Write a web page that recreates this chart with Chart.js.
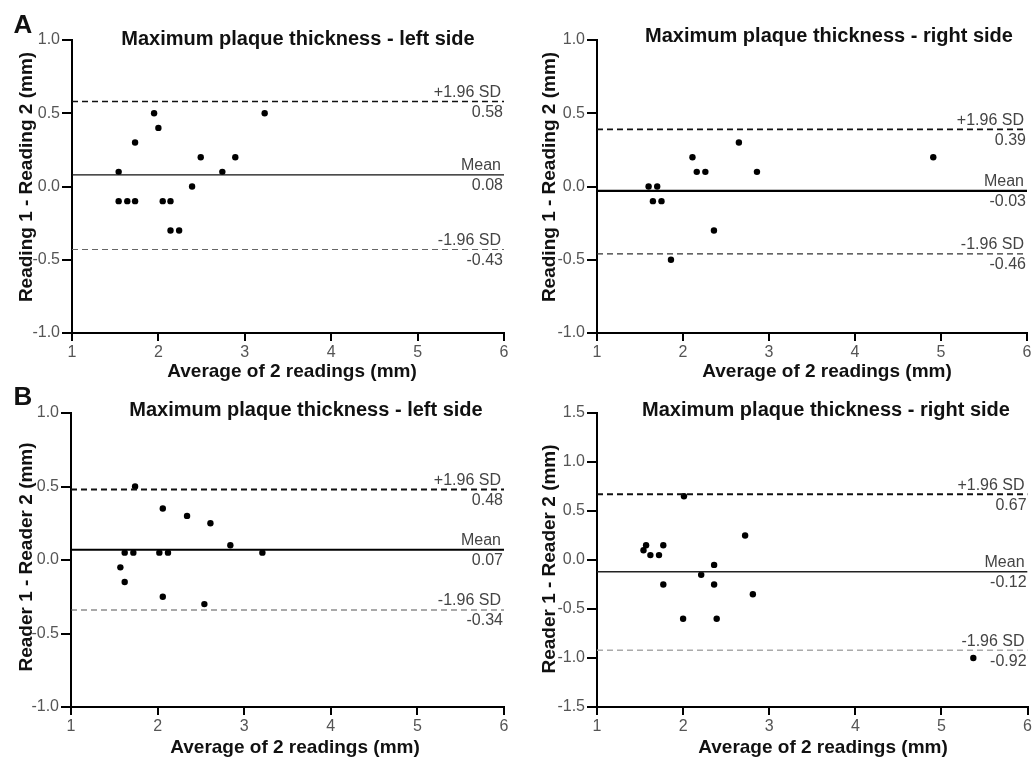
<!DOCTYPE html>
<html><head><meta charset="utf-8">
<script src="https://cdn.jsdelivr.net/npm/chart.js@4.4.1/dist/chart.umd.min.js"></script>
<style>
html,body{margin:0;padding:0;background:#fff;}
#wrap{position:relative;width:1034px;height:757px;overflow:hidden;background:#fff;}
canvas{position:absolute;left:0;top:0;width:1034px;height:757px;}
</style></head><body><div id="wrap">
<canvas id="c0" width="1034" height="757"></canvas>
<canvas id="c1" width="1034" height="757"></canvas>
<canvas id="c2" width="1034" height="757"></canvas>
<canvas id="c3" width="1034" height="757"></canvas>
</div>
<script>
// ---------- DATA ----------
const statNames = ['+1.96 SD', 'Mean', '-1.96 SD'];
const xTicks = [1, 2, 3, 4, 5, 6];

// Panel A, left side (Reading 1 - Reading 2)
const aLeftX = [1.54, 1.54, 1.64, 1.73, 1.73, 1.95, 2.00, 2.05, 2.14, 2.14, 2.24, 2.39, 2.49, 2.74, 2.89, 3.23];
const aLeftY = [0.10, -0.10, -0.10, -0.10, 0.30, 0.50, 0.40, -0.10, -0.10, -0.30, -0.30, 0.00, 0.20, 0.10, 0.20, 0.50];
const aLeftStats = [0.58, 0.08, -0.43];

// Panel A, right side
const aRightX = [1.60, 1.70, 1.65, 1.75, 1.86, 2.11, 2.16, 2.26, 2.36, 2.65, 2.86, 4.91];
const aRightY = [0.00, 0.00, -0.10, -0.10, -0.50, 0.20, 0.10, 0.10, -0.30, 0.30, 0.10, 0.20];
const aRightStats = [0.39, -0.03, -0.46];

// Panel B, left side (Reader 1 - Reader 2)
const bLeftX = [1.74, 2.06, 2.34, 2.61, 2.84, 1.62, 1.72, 2.02, 2.12, 3.21, 1.57, 1.62, 2.06, 2.54];
const bLeftY = [0.50, 0.35, 0.30, 0.25, 0.10, 0.05, 0.05, 0.05, 0.05, 0.05, -0.05, -0.15, -0.25, -0.30];
const bLeftStats = [0.48, 0.07, -0.34];

// Panel B, right side
const bRightX = [1.54, 1.57, 1.62, 1.72, 1.77, 1.77, 2.01, 2.00, 2.21, 2.36, 2.36, 2.39, 2.72, 2.81, 5.37];
const bRightY = [0.10, 0.15, 0.05, 0.05, 0.15, -0.25, 0.65, -0.60, -0.15, -0.05, -0.25, -0.60, 0.25, -0.35, -1.00];
const bRightStats = [0.67, -0.12, -0.92];

const yTicksA = [-1.0, -0.5, 0.0, 0.5, 1.0];
const yTicksBR = [-1.5, -1.0, -0.5, 0.0, 0.5, 1.0, 1.5];

const titleLeft = 'Maximum plaque thickness - left side';
const titleRight = 'Maximum plaque thickness - right side';
const xTitle = 'Average of 2 readings (mm)';
const yTitleA = 'Reading 1 - Reading 2 (mm)';
const yTitleB = 'Reader 1 - Reader 2 (mm)';

// ---------- LAYOUT / STYLE ----------
const FONT = '"Liberation Sans", Arial, Helvetica, sans-serif';
Chart.defaults.font.family = FONT;

const panels = [
  { id: 'c0', xs: aLeftX, ys: aLeftY, stats: aLeftStats, yTicks: yTicksA,
    area: { left: 72, right: 504, top: 40, bottom: 333 },
    title: titleLeft, titlePos: [298, 45], letter: 'A', letterPos: [23, 33],
    xTitlePos: [292, 377], yTitle: yTitleA, yTitlePos: [32, 177],
    lines: [ {c: '#111', w: 1.5, d: [6, 4]}, {c: '#111', w: 1.3, d: []}, {c: '#666', w: 1.2, d: [6, 4]} ] },
  { id: 'c1', xs: aRightX, ys: aRightY, stats: aRightStats, yTicks: yTicksA,
    area: { left: 597, right: 1027, top: 40, bottom: 333 },
    title: titleRight, titlePos: [829, 42], letter: null,
    xTitlePos: [827, 377], yTitle: yTitleA, yTitlePos: [555, 177],
    lines: [ {c: '#111', w: 1.8, d: [6, 4]}, {c: '#000', w: 2.2, d: []}, {c: '#333', w: 1.2, d: [6, 4]} ] },
  { id: 'c2', xs: bLeftX, ys: bLeftY, stats: bLeftStats, yTicks: yTicksA,
    area: { left: 71, right: 504, top: 413, bottom: 707 },
    title: titleLeft, titlePos: [306, 416], letter: 'B', letterPos: [23, 405],
    xTitlePos: [295, 753], yTitle: yTitleB, yTitlePos: [32, 557],
    lines: [ {c: '#111', w: 2, d: [6, 4]}, {c: '#000', w: 2, d: []}, {c: '#555', w: 1.2, d: [6, 4]} ] },
  { id: 'c3', xs: bRightX, ys: bRightY, stats: bRightStats, yTicks: yTicksBR,
    area: { left: 597, right: 1028, top: 413, bottom: 707 },
    title: titleRight, titlePos: [826, 416], letter: null,
    xTitlePos: [823, 753], yTitle: yTitleB, yTitlePos: [555, 559],
    lines: [ {c: '#111', w: 2, d: [6, 4]}, {c: '#222', w: 1.3, d: []}, {c: '#aaa', w: 1.5, d: [6, 4]} ] }
];

const YW = 40, XH = 30, W = 1034, H = 757;

const annot = {
  id: 'annot',
  afterDatasetsDraw(chart, args, o) {
    const ctx = chart.ctx, ca = chart.chartArea, ysc = chart.scales.y;
    ctx.save();
    ctx.font = '16px ' + FONT;
    ctx.fillStyle = '#444';
    ctx.textAlign = 'right';
    ctx.textBaseline = 'middle';
    o.stats.forEach((v, i) => {
      const py = ysc.getPixelForValue(v);
      ctx.fillText(statNames[i], ca.right - 3, py - 9);
      ctx.fillText(v.toFixed(2), ca.right - 1, py + 11);
    });
    ctx.fillStyle = '#111';
    ctx.textAlign = 'center';
    ctx.textBaseline = 'alphabetic';
    ctx.font = 'bold 20px ' + FONT;
    ctx.fillText(o.title, o.titlePos[0], o.titlePos[1]);
    if (o.letter) {
      ctx.font = 'bold 26px ' + FONT;
      ctx.fillText(o.letter, o.letterPos[0], o.letterPos[1]);
    }
    ctx.font = 'bold 19px ' + FONT;
    ctx.fillText(xTitle, o.xTitlePos[0], o.xTitlePos[1]);
    ctx.translate(o.yTitlePos[0], o.yTitlePos[1]);
    ctx.rotate(-Math.PI / 2);
    ctx.fillText(o.yTitle, 0, 0);
    ctx.restore();
  }
};

panels.forEach(p => {
  const pts = p.xs.map((x, i) => ({ x: x, y: p.ys[i] }));
  const lineSets = p.stats.map((v, i) => ({
    data: [{ x: xTicks[0], y: v }, { x: xTicks[xTicks.length - 1], y: v }],
    showLine: true, pointRadius: 0, borderColor: p.lines[i].c,
    borderWidth: p.lines[i].w, borderDash: p.lines[i].d, fill: false
  }));
  const yMin = p.yTicks[0], yMax = p.yTicks[p.yTicks.length - 1];
  new Chart(document.getElementById(p.id), {
    type: 'scatter',
    data: {
      datasets: [...lineSets, {
        data: pts, pointRadius: 3.2, pointHoverRadius: 3.2,
        pointBackgroundColor: '#000', pointBorderWidth: 0, showLine: false
      }]
    },
    options: {
      responsive: false, animation: false, events: [],
      layout: { padding: {
        left: p.area.left - YW, right: W - p.area.right,
        top: p.area.top, bottom: H - p.area.bottom - XH } },
      plugins: {
        legend: { display: false }, tooltip: { enabled: false }, title: { display: false },
        annot: { stats: p.stats, title: p.title, titlePos: p.titlePos, letter: p.letter,
          letterPos: p.letterPos, xTitlePos: p.xTitlePos, yTitle: p.yTitle, yTitlePos: p.yTitlePos }
      },
      scales: {
        x: {
          type: 'linear', min: xTicks[0], max: xTicks[xTicks.length - 1], offset: false,
          afterFit: s => { s.height = XH; },
          afterBuildTicks: s => { s.ticks = xTicks.map(v => ({ value: v })); },
          ticks: { color: '#555', font: { size: 16 }, padding: 2, callback: v => String(v) },
          grid: { display: true, drawOnChartArea: false, drawTicks: true, tickLength: 8,
            color: '#000', tickColor: '#000', lineWidth: 2, tickWidth: 2 },
          border: { display: true, color: '#000', width: 2 }
        },
        y: {
          type: 'linear', min: yMin, max: yMax,
          afterFit: s => { s.width = YW; },
          afterBuildTicks: s => { s.ticks = p.yTicks.map(v => ({ value: v })); },
          ticks: { color: '#555', font: { size: 16 }, padding: 2, callback: v => Number(v).toFixed(1) },
          grid: { display: true, drawOnChartArea: false, drawTicks: true, tickLength: 10,
            color: '#000', tickColor: '#000', lineWidth: 2, tickWidth: 2 },
          border: { display: true, color: '#000', width: 2 }
        }
      }
    },
    plugins: [annot]
  });
});
</script>
</body></html>
